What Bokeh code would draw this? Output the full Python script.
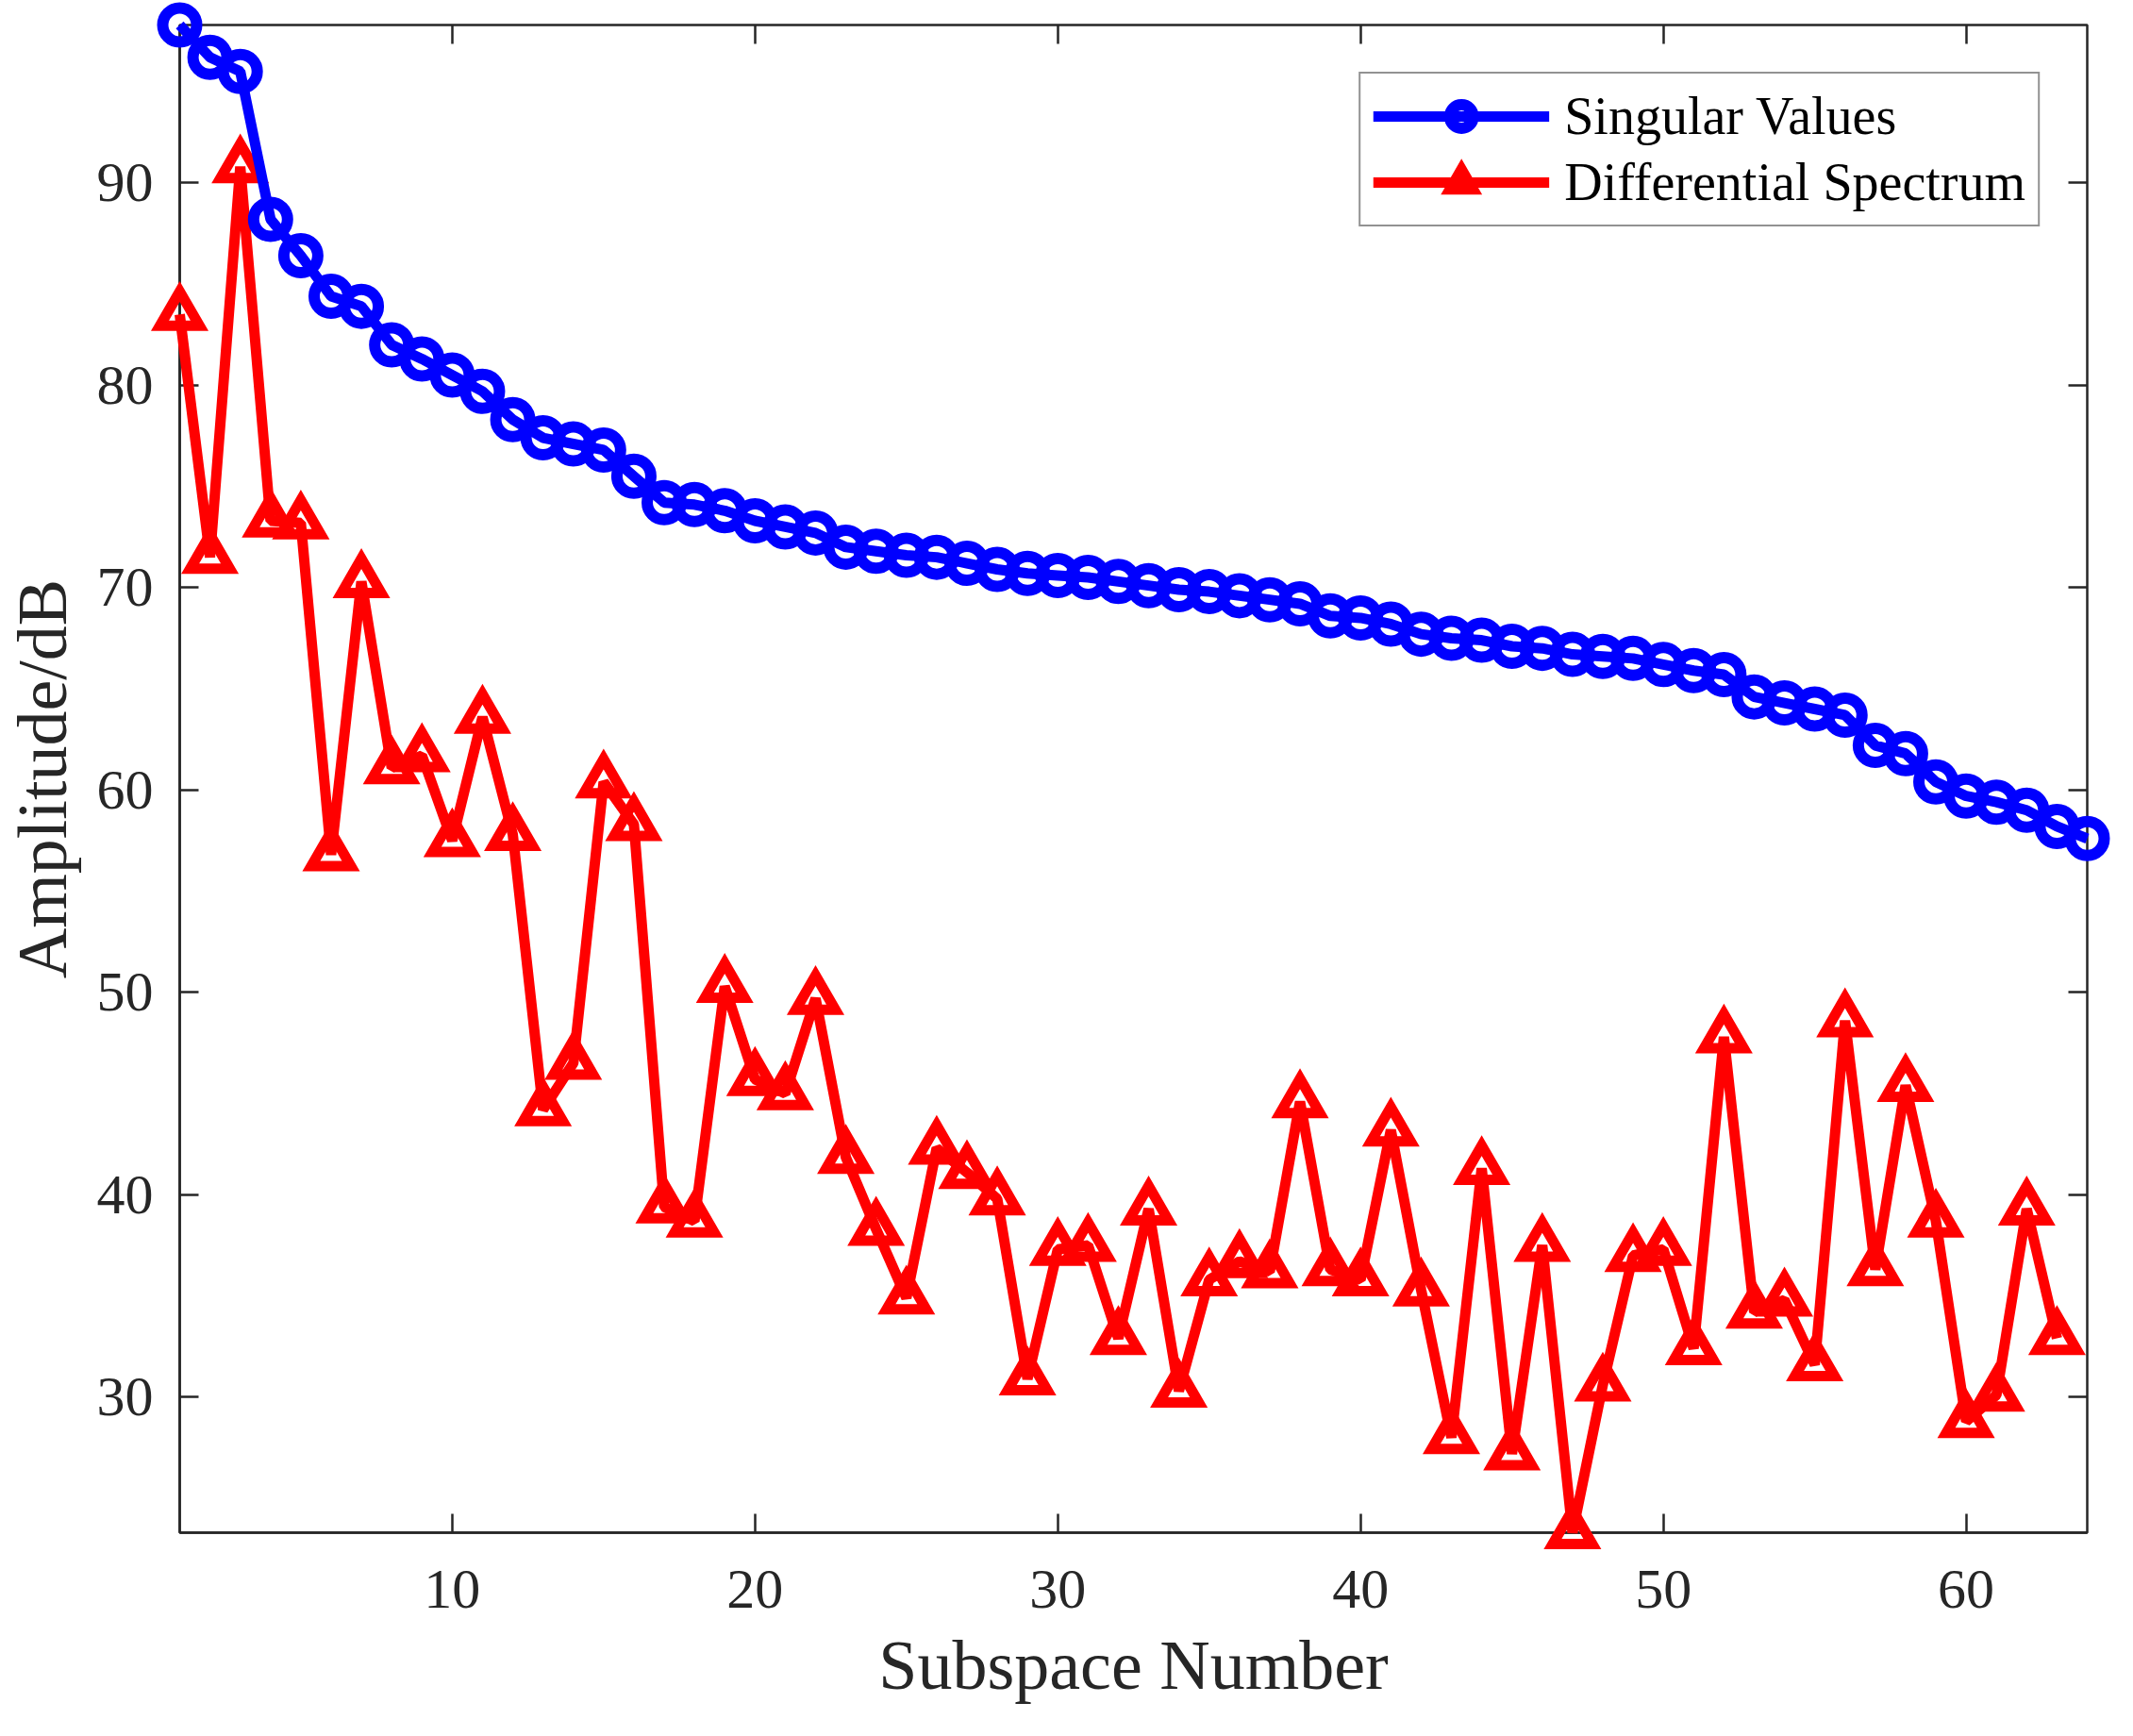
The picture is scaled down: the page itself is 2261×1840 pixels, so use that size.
from bokeh.embed import file_html
from bokeh.models import (ColumnDataSource, FixedTicker, Legend, LegendItem,
                          LinearAxis, Range1d)
from bokeh.plotting import figure
from bokeh.resources import INLINE

# singular values of the 64 subspaces (dB)
subspace = list(range(1, 65))
singular_values = [
    97.8, 96.2, 95.5, 88.2, 86.4, 84.4, 83.9, 82.0, 81.3, 80.5,
    79.7, 78.3, 77.4, 77.1, 76.8, 75.5, 74.2, 74.1, 73.8, 73.3,
    73.0, 72.7, 72.0, 71.8, 71.6, 71.5, 71.2, 70.9, 70.7, 70.6,
    70.5, 70.3, 70.1, 69.9, 69.8, 69.6, 69.4, 69.2, 68.6, 68.5,
    68.2, 67.7, 67.5, 67.4, 67.1, 67.0, 66.7, 66.6, 66.5, 66.2,
    65.9, 65.7, 64.6, 64.3, 64.0, 63.7, 62.2, 61.8, 60.4, 59.7,
    59.4, 59.0, 58.2, 57.6,
]

# differential spectrum, one point fewer
diff_index = list(range(1, 64))
diff_spectrum = [
    83.5, 71.5, 90.8, 73.3, 73.2, 56.8, 70.3, 61.1, 61.7, 57.5,
    63.6, 57.8, 44.2, 46.5, 60.4, 58.3, 39.4, 38.7, 50.3, 45.7,
    45.0, 49.7, 41.85, 38.3, 34.9, 42.3, 41.1, 39.8, 30.9, 37.3,
    37.5, 32.9, 39.3, 30.3, 35.8, 36.7, 36.2, 44.6, 36.3, 35.8,
    43.2, 35.3, 28.0, 41.3, 27.2, 37.5, 23.3, 30.6, 37.0, 37.3,
    32.4, 47.8, 34.2, 34.8, 31.6, 48.6, 36.3, 45.4, 38.7, 28.8,
    30.1, 39.3, 32.9,
]

x_ticks = [10, 20, 30, 40, 50, 60]
y_ticks = [30, 40, 50, 60, 70, 80, 90]

FONT = "Liberation Serif"
INK = "#262626"

sv_src = ColumnDataSource({"x": subspace, "y": singular_values})
ds_src = ColumnDataSource({"x": diff_index, "y": diff_spectrum})

p = figure(
    width=2245,
    height=1824,
    x_range=Range1d(subspace[0], subspace[-1]),
    y_range=Range1d(min(diff_spectrum), max(singular_values)),
    output_backend="svg",
    toolbar_location=None,
    min_border_left=184,
    min_border_right=33,
    min_border_top=26,
    min_border_bottom=200,
)
p.grid.visible = False
p.outline_line_color = INK
p.outline_line_width = 2.5

# markers spill over the frame like in MATLAB, so keep them off the clipped glyph level
# red first so the blue curve sits on top
ds_line = p.line("x", "y", source=ds_src, line_color="#ff0000", line_width=11,
                 level="overlay")
ds_mark = p.scatter("x", "y", source=ds_src, marker="triangle", size=42,
                    line_color="#ff0000", line_width=11, line_join="miter",
                    fill_color=None, level="overlay")
sv_line = p.line("x", "y", source=sv_src, line_color="#0000ff", line_width=11,
                 level="overlay")
sv_mark = p.scatter("x", "y", source=sv_src, marker="circle", size=36,
                    line_color="#0000ff", line_width=12, fill_color=None,
                    level="overlay")

for ax, ticks in ((p.xaxis[0], x_ticks), (p.yaxis[0], y_ticks)):
    ax.ticker = FixedTicker(ticks=ticks)
    ax.major_tick_in = 20
    ax.major_tick_out = 0
    ax.minor_tick_line_color = None
    ax.major_tick_line_color = INK
    ax.major_tick_line_width = 2.5
    ax.axis_line_color = INK
    ax.axis_line_width = 2.5
    ax.major_label_text_font = FONT
    ax.major_label_text_font_size = "60px"
    ax.major_label_text_color = INK
    ax.axis_label_text_font = FONT
    ax.axis_label_text_font_size = "74px"
    ax.axis_label_text_font_style = "normal"
    ax.axis_label_text_color = INK

p.xaxis.axis_label = "Subspace Number"
p.yaxis.axis_label = "Amplitude/dB"
p.xaxis.major_label_standoff = 40
p.yaxis.major_label_standoff = 28
p.xaxis.axis_label_standoff = 17
p.yaxis.axis_label_standoff = 14

# mirrored tick marks on top and right (box on), no labels
for side, ticks in (("above", x_ticks), ("right", y_ticks)):
    mirror = LinearAxis(ticker=FixedTicker(ticks=ticks))
    mirror.major_tick_in = 20
    mirror.major_tick_out = 0
    mirror.minor_tick_line_color = None
    mirror.major_tick_line_color = INK
    mirror.major_tick_line_width = 2.5
    mirror.axis_line_color = None
    mirror.major_label_text_color = None
    mirror.major_label_text_font_size = "1px"
    mirror.major_label_standoff = 0
    p.add_layout(mirror, side)

legend = Legend(
    items=[
        LegendItem(label="Singular Values", renderers=[sv_line, sv_mark]),
        LegendItem(label="Differential Spectrum", renderers=[ds_line, ds_mark]),
    ],
    location="top_right",
    margin=50,
    padding=13,
    spacing=6,
    glyph_width=187,
    glyph_height=62,
    label_height=62,
    label_standoff=16,
    label_text_font=FONT,
    label_text_font_size="56px",
    label_text_color="black",
    border_line_color=INK,
    border_line_width=2.5,
    background_fill_color="white",
    background_fill_alpha=1.0,
)
p.add_layout(legend)

open("out.html", "w").write(file_html(p, INLINE))
